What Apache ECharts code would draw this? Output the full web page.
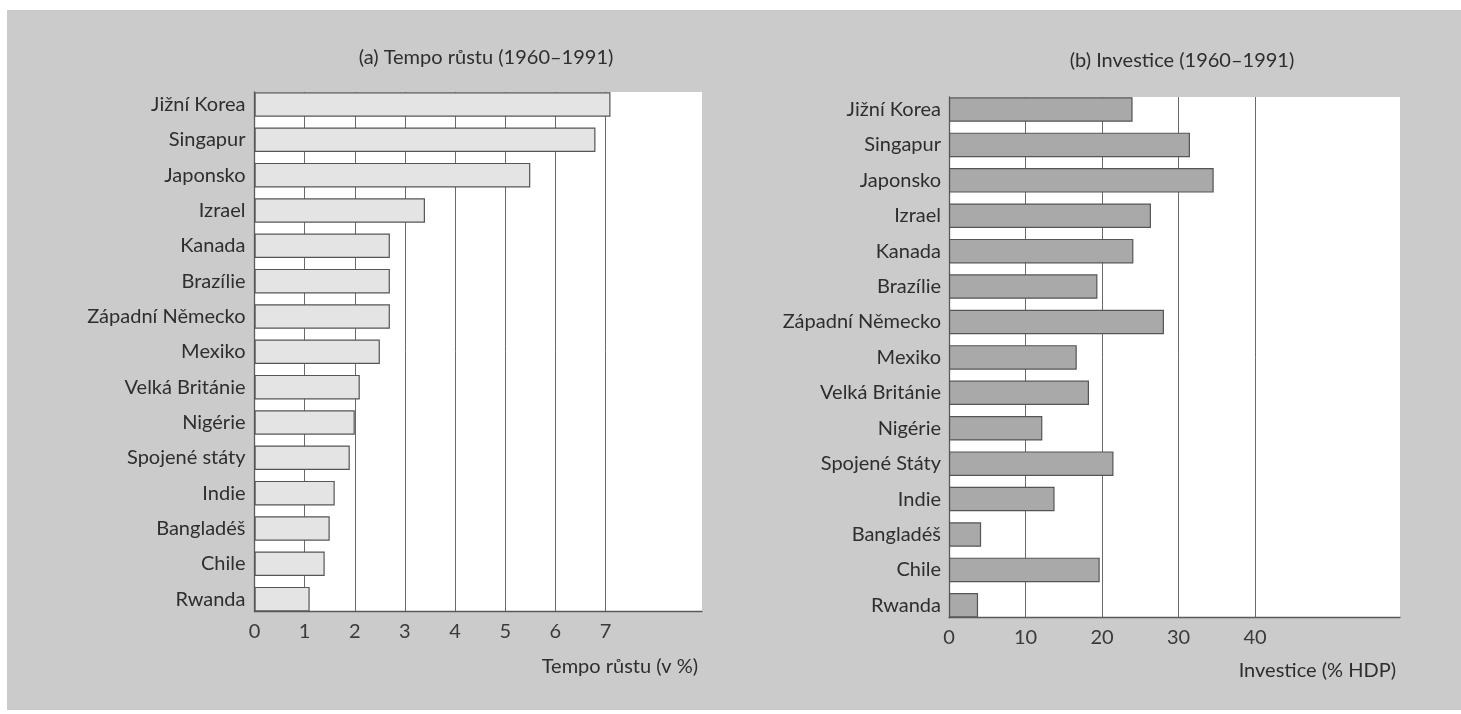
<!DOCTYPE html>
<html><head><meta charset="utf-8">
<script src="https://cdn.jsdelivr.net/npm/echarts@6/dist/echarts.min.js"></script>
<style>
html,body{margin:0;padding:0;background:#ffffff;width:1461px;height:714px;overflow:hidden}
#panel{position:absolute;left:7px;top:10px;width:1454px;height:700px;background:#cbcbcb}
#chart{position:absolute;left:0;top:0;width:1461px;height:714px}
</style></head><body>
<div id="panel"></div><div id="chart"></div>
<script>
// ---- data ----
const countriesA = ['Jižní Korea','Singapur','Japonsko','Izrael','Kanada','Brazílie','Západní Německo','Mexiko','Velká Británie','Nigérie','Spojené státy','Indie','Bangladéš','Chile','Rwanda'];
const growthValues = [7.1, 6.8, 5.5, 3.4, 2.7, 2.7, 2.7, 2.5, 2.1, 2.0, 1.9, 1.6, 1.5, 1.4, 1.1];
const growthTicks = [0, 1, 2, 3, 4, 5, 6, 7];
const titleA = '(a) Tempo růstu (1960–1991)';
const axisNameA = 'Tempo růstu (v %)';

const countriesB = ['Jižní Korea','Singapur','Japonsko','Izrael','Kanada','Brazílie','Západní Německo','Mexiko','Velká Británie','Nigérie','Spojené Státy','Indie','Bangladéš','Chile','Rwanda'];
const investValues = [24.0, 31.5, 34.6, 26.4, 24.1, 19.4, 28.1, 16.7, 18.3, 12.2, 21.5, 13.8, 4.2, 19.7, 3.8];
const investTicks = [0, 10, 20, 30, 40];
const titleB = '(b) Investice (1960–1991)';
const axisNameB = 'Investice (% HDP)';

// ---- style / layout ----
const FONT = 'Lato';
const TEXT = '#2e2e2e';
const LINE = '#5a5a5a';

function panel(cfg, gi) {
  const lastTick = cfg.ticks[cfg.ticks.length - 1];
  const step = cfg.ticks[1] - cfg.ticks[0];
  const fullMax = cfg.whiteWidth / cfg.unitPx;
  const grids = [
    { left: cfg.left, top: cfg.whiteTop, width: cfg.whiteWidth, height: cfg.whiteHeight, show: true, backgroundColor: '#ffffff', borderWidth: 0 },
    { left: cfg.left, top: cfg.whiteTop, width: lastTick * cfg.unitPx, height: cfg.whiteHeight, show: false },
    { left: cfg.left, top: cfg.barTop, width: cfg.whiteWidth, height: cfg.barHeight, show: false }
  ];
  const xAxes = [
    { gridIndex: gi, type: 'value', min: 0, max: fullMax,
      axisLine: { show: true, onZero: false, lineStyle: { color: LINE, width: 1.3 } },
      axisTick: { show: false }, axisLabel: { show: false }, splitLine: { show: false },
      name: cfg.axisName, nameLocation: 'end', nameGap: -4,
      nameTextStyle: { fontFamily: FONT, fontSize: 20, color: TEXT, align: 'right', verticalAlign: 'top', padding: [cfg.namePad, 0, 0, 0] } },
    { gridIndex: gi + 1, type: 'value', min: 0, max: lastTick, interval: step,
      axisLine: { show: false }, axisTick: { show: false },
      axisLabel: { show: true, margin: 10, fontFamily: FONT, fontSize: 20, color: '#3a3a3a',
        formatter: v => cfg.ticks.indexOf(v) >= 0 ? String(v) : '' },
      splitLine: { show: true, lineStyle: { color: '#6a6a6a', width: 1 } } },
    { gridIndex: gi + 2, type: 'value', min: 0, max: fullMax, show: false }
  ];
  const yAxes = [
    { gridIndex: gi, type: 'value', min: 0, max: 1,
      axisLine: { show: true, onZero: false, lineStyle: { color: LINE, width: 1.3 } },
      axisTick: { show: false }, axisLabel: { show: false }, splitLine: { show: false } },
    { gridIndex: gi + 1, type: 'value', min: 0, max: 1, show: false },
    { gridIndex: gi + 2, type: 'category', data: cfg.categories, inverse: true,
      axisLine: { show: false }, axisTick: { show: false }, splitLine: { show: false },
      axisLabel: { margin: cfg.labelMargin, fontFamily: FONT, fontSize: 20, color: TEXT } }
  ];
  const series = [{
    type: 'bar', xAxisIndex: gi + 2, yAxisIndex: gi + 2, data: cfg.values,
    barWidth: 24.5, z: 3, silent: true,
    itemStyle: { color: cfg.barColor, borderColor: '#555555', borderWidth: 1.2 }
  }];
  const title = { text: cfg.title, left: cfg.titleX, top: cfg.titleY, textAlign: 'center',
    textStyle: { fontFamily: FONT, fontSize: 20, fontWeight: 'normal', color: TEXT } };
  return { grids, xAxes, yAxes, series, title };
}

const A = panel({
  categories: countriesA, values: growthValues, ticks: growthTicks, axisName: axisNameA, title: titleA,
  left: 254.5, whiteTop: 92, whiteWidth: 447.5, whiteHeight: 519.5, unitPx: 50.14,
  barTop: 86.8, barHeight: 530, labelMargin: 9, namePad: 45, barColor: '#e4e4e4',
  titleX: 481, titleY: 43
}, 0);
const B = panel({
  categories: countriesB, values: investValues, ticks: investTicks, axisName: axisNameB, title: titleB,
  left: 949, whiteTop: 97, whiteWidth: 451, whiteHeight: 520.5, unitPx: 7.65,
  barTop: 91.8, barHeight: 531.2, labelMargin: 8, namePad: 43, barColor: '#a9a9a9',
  titleX: 1177, titleY: 46
}, 3);

const chart = echarts.init(document.getElementById('chart'), null, { renderer: 'canvas' });
chart.setOption({
  backgroundColor: 'transparent',
  animation: false,
  title: [A.title, B.title],
  grid: A.grids.concat(B.grids),
  xAxis: A.xAxes.concat(B.xAxes),
  yAxis: A.yAxes.concat(B.yAxes),
  series: A.series.concat(B.series)
});
</script>
</body></html>
